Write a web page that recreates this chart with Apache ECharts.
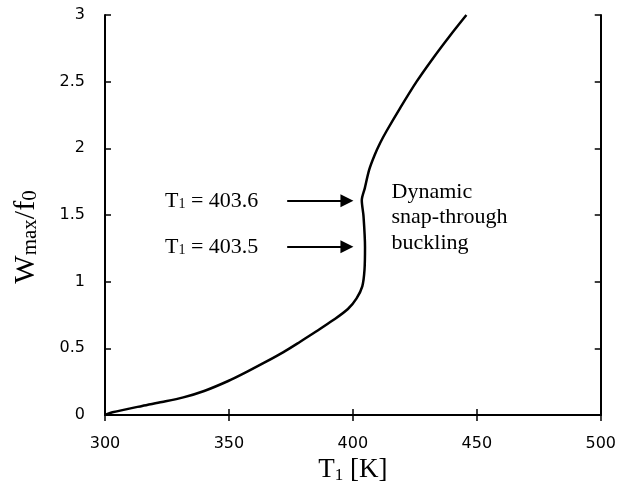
<!DOCTYPE html>
<html>
<head>
<meta charset="utf-8">
<script src="https://cdn.jsdelivr.net/npm/echarts@6/dist/echarts.min.js"></script>
<style>html,body{margin:0;padding:0;background:#fff}#c{width:619px;height:494px}</style>
</head>
<body>
<div id="c"></div>
<script>
// Data
const temperatureK = [300, 303, 315, 323, 331.6, 340, 349.7, 357, 365.2, 372, 378.6, 385, 392.1, 398, 401.5, 403.8, 404.7, 404.9, 404.3, 403.6, 404.8, 406.6, 408.8, 411, 413.6, 419.0, 425.7, 432.5, 439.1, 445.8];
const wmaxOverF0 = [0, 0.02, 0.068, 0.097, 0.132, 0.18, 0.255, 0.322, 0.402, 0.472, 0.548, 0.624, 0.712, 0.795, 0.875, 0.965, 1.09, 1.26, 1.49, 1.61, 1.70, 1.84, 1.95, 2.04, 2.13, 2.30, 2.50, 2.68, 2.843, 3.0];
const xTicks = [300, 350, 400, 450, 500];
const yTicks = [0, 0.5, 1, 1.5, 2, 2.5, 3];
const arrowLevels = [1.607, 1.262];           // W/f0 of the two arrows
const arrowLabels = ['403.6', '403.5'];

const seriesData = temperatureK.map((t, i) => [t, wmaxOverF0[i]]);
const xStep = xTicks[1] - xTicks[0];
const yStep = yTicks[1] - yTicks[0];

const chart = echarts.init(document.getElementById('c'));
const axisLineStyle = { color: '#000', width: 2 };
const tickStyle = { color: '#000', width: 1.5 };
const labelFont = { fontFamily: 'DejaVu Sans', fontSize: 16, color: '#000' };
const serif = 'Liberation Serif';

chart.setOption({
  animation: false,
  grid: { left: 105, right: 18, top: 15, bottom: 79 },
  xAxis: [{
    type: 'value', min: xTicks[0], max: xTicks[xTicks.length - 1], interval: xStep,
    axisLine: { lineStyle: axisLineStyle },
    axisTick: { inside: true, length: 6, lineStyle: tickStyle },
    axisLabel: Object.assign({ margin: 21 }, labelFont),
    splitLine: { show: false },
    name: '{a|T}{s|1}{a| [K]}', nameLocation: 'middle', nameGap: 26,
    nameTextStyle: {
      rich: {
        a: { fontFamily: serif, fontSize: 27, color: '#000', verticalAlign: 'bottom', lineHeight: 28 },
        s: { fontFamily: serif, fontSize: 17, color: '#000', verticalAlign: 'bottom', lineHeight: 8 }
      }
    }
  }, {
    type: 'value', position: 'top', min: xTicks[0], max: xTicks[xTicks.length - 1], interval: xStep,
    axisLine: { lineStyle: axisLineStyle },
    axisTick: { inside: true, length: 6, lineStyle: tickStyle },
    axisLabel: { show: false }, splitLine: { show: false }
  }],
  yAxis: [{
    type: 'value', min: yTicks[0], max: yTicks[yTicks.length - 1], interval: yStep,
    axisLine: { show: true, lineStyle: axisLineStyle },
    axisTick: { show: true, inside: true, length: 6, lineStyle: tickStyle },
    axisLabel: Object.assign({ margin: 20 }, labelFont),
    splitLine: { show: false },
    name: '{a|W}{s|max}{a|/f}{s|0}', nameLocation: 'middle', nameGap: 64, nameRotate: 90,
    nameTextStyle: {
      padding: [0, 44, 0, 0],
      rich: {
        a: { fontFamily: serif, fontSize: 30, color: '#000', verticalAlign: 'bottom', lineHeight: 30 },
        s: { fontFamily: serif, fontSize: 21, color: '#000', verticalAlign: 'bottom', lineHeight: 8 }
      }
    }
  }, {
    type: 'value', position: 'right', min: yTicks[0], max: yTicks[yTicks.length - 1], interval: yStep,
    axisLine: { show: true, lineStyle: axisLineStyle },
    axisTick: { show: true, inside: true, length: 6, lineStyle: tickStyle },
    axisLabel: { show: false }, splitLine: { show: false }
  }],
  series: [{
    type: 'line', xAxisIndex: 0, yAxisIndex: 0,
    data: seriesData, smooth: 0.3, showSymbol: false, symbol: 'none',
    lineStyle: { color: '#000', width: 2.5 },
    markLine: {
      silent: true, animation: false,
      symbol: ['none', 'triangle'], symbolSize: 13,
      label: { show: false },
      lineStyle: { color: '#000', width: 2, type: 'solid' },
      data: arrowLevels.map(w => [{ coord: [373.5, w] }, { coord: [397.6, w] }])
    }
  }]
});

function px(t, w) { return chart.convertToPixel({ gridIndex: 0 }, [t, w]); }
const labelRich = {
  a: { fontFamily: serif, fontSize: 22, color: '#000', verticalAlign: 'bottom', lineHeight: 22 },
  s: { fontFamily: serif, fontSize: 14, color: '#000', verticalAlign: 'bottom', lineHeight: 6 }
};
const graphics = arrowLevels.map((w, i) => {
  const p = px(324.2, w);
  return {
    type: 'text', x: p[0], y: p[1],
    style: { text: '{a|T}{s|1}{a| = ' + arrowLabels[i] + '}', rich: labelRich, align: 'left', verticalAlign: 'middle' }
  };
});
const pd = px(415.6, 1.48);
graphics.push({
  type: 'text', x: pd[0], y: pd[1],
  style: { text: 'Dynamic\nsnap-through\nbuckling', fontFamily: serif, fontSize: 22, lineHeight: 25.5, fill: '#000', align: 'left', verticalAlign: 'middle' }
});
chart.setOption({ graphic: graphics });
</script>
</body>
</html>
